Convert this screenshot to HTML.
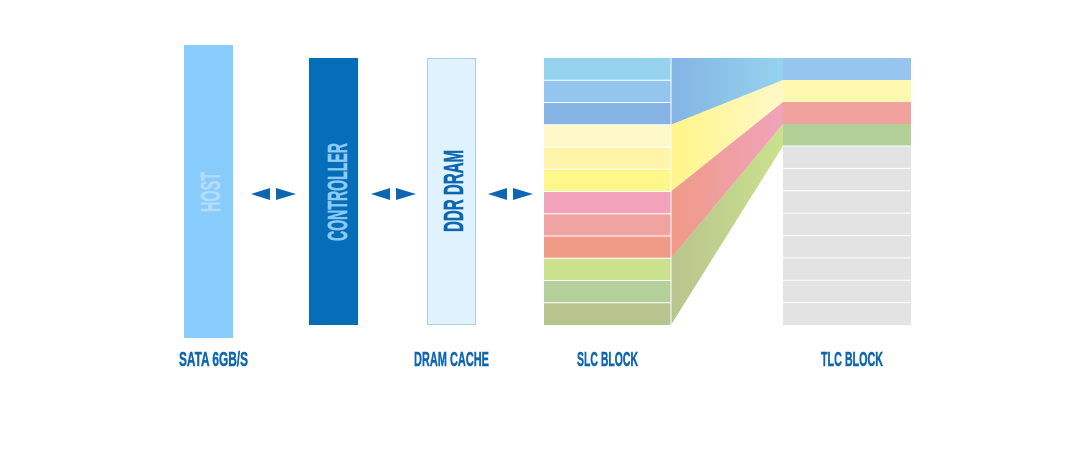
<!DOCTYPE html>
<html><head><meta charset="utf-8"><style>html,body{margin:0;padding:0;background:#fff}svg{display:block}</style></head>
<body>
<svg width="1080" height="450" viewBox="0 0 1080 450" xmlns="http://www.w3.org/2000/svg" font-family="Liberation Sans, sans-serif" font-weight="bold">
<defs>
<linearGradient id="gb" x1="0" x2="1" y1="0" y2="0"><stop offset="0" stop-color="#84b4e4"/><stop offset="1" stop-color="#95d3ee"/></linearGradient>
<linearGradient id="gy" x1="0" x2="1"><stop offset="0" stop-color="#fff58a"/><stop offset="1" stop-color="#fff8c8"/></linearGradient>
<linearGradient id="gr" x1="0" x2="1"><stop offset="0" stop-color="#f09a88"/><stop offset="1" stop-color="#f0a3bb"/></linearGradient>
<linearGradient id="gg" x1="0" x2="1"><stop offset="0" stop-color="#b8c48e"/><stop offset="1" stop-color="#cae28e"/></linearGradient>
</defs>
<rect x="184" y="45" width="49" height="293" fill="#88cbfd"/>
<rect x="309" y="58" width="49" height="267" fill="#066db8"/>
<rect x="427.5" y="58.5" width="48" height="266" fill="#dff2fe" stroke="#a9cfe8"/>
<text transform="translate(220,212) rotate(-90)" font-size="28" fill="#b4dcfb" stroke="#b4dcfb" stroke-width="0.6" textLength="40" lengthAdjust="spacingAndGlyphs">HOST</text>
<text transform="translate(347,241) rotate(-90)" font-size="28" fill="#8ccbf8" stroke="#8ccbf8" stroke-width="0.6" textLength="98" lengthAdjust="spacingAndGlyphs">CONTROLLER</text>
<text transform="translate(463,232) rotate(-90)" font-size="28" fill="#0e66b0" stroke="#0e66b0" stroke-width="0.6" textLength="82" lengthAdjust="spacingAndGlyphs">DDR DRAM</text>
<g fill="#0e66b0">
<polygon points="251,194 270,188 270,200"/><polygon points="296,194 276,188 276,200"/>
<polygon points="371,194 390,188 390,200"/><polygon points="416,194 396,188 396,200"/>
<polygon points="488,194 507,188 507,200"/><polygon points="533,194 513,188 513,200"/>
</g>
<g>
<rect x="544" y="58" width="127" height="22.25" fill="#95d3ee"/>
<rect x="544" y="80.25" width="127" height="22.25" fill="#93c5ee"/>
<rect x="544" y="102.5" width="127" height="22.25" fill="#86b4e4"/>
<rect x="544" y="124.75" width="127" height="22.25" fill="#fff8c8"/>
<rect x="544" y="147" width="127" height="22.25" fill="#fff4a8"/>
<rect x="544" y="169.25" width="127" height="22.25" fill="#fff78a"/>
<rect x="544" y="191.5" width="127" height="22.25" fill="#f0a3bb"/>
<rect x="544" y="213.75" width="127" height="22.25" fill="#f0a3a0"/>
<rect x="544" y="236" width="127" height="22.25" fill="#f09a88"/>
<rect x="544" y="258.25" width="127" height="22.25" fill="#cae28e"/>
<rect x="544" y="280.5" width="127" height="22.25" fill="#b5d09a"/>
<rect x="544" y="302.75" width="127" height="22.25" fill="#b8c48e"/>
</g>
<polygon points="671,58 783,58 783,80 671,124.75" fill="url(#gb)"/>
<polygon points="671,124.75 783,80 783,102 671,191.5" fill="url(#gy)"/>
<polygon points="671,191.5 783,102 783,124 671,258.25" fill="url(#gr)"/>
<polygon points="671,258.25 783,124 783,146 671,325" fill="url(#gg)"/>
<rect x="783" y="58" width="128" height="22" fill="#96c5ee"/>
<rect x="783" y="80" width="128" height="22" fill="#fff8b0"/>
<rect x="783" y="102" width="128" height="22" fill="#f0a39e"/>
<rect x="783" y="124" width="128" height="22" fill="#b3d098"/>
<rect x="783" y="146" width="128" height="179" fill="#e3e3e3"/>
<g stroke="#fff" stroke-width="1">
<path d="M544 80.25H671M544 102.5H671M544 124.75H671M544 147H671M544 169.25H671M544 191.5H671M544 213.75H671M544 236H671M544 258.25H671M544 280.5H671M544 302.75H671"/>
<path d="M783 146H911M783 168.4H911M783 190.8H911M783 213.1H911M783 235.5H911M783 257.9H911M783 280.3H911M783 302.6H911"/>
<path d="M671 58V325"/>
</g>
<g fill="#0e66b0" stroke="#0e66b0" stroke-width="0.5" font-size="20">
<text x="179" y="366" textLength="69" lengthAdjust="spacingAndGlyphs">SATA 6GB/S</text>
<text x="414" y="366" textLength="75" lengthAdjust="spacingAndGlyphs">DRAM CACHE</text>
<text x="577" y="366" textLength="61" lengthAdjust="spacingAndGlyphs">SLC BLOCK</text>
<text x="821" y="366" textLength="62" lengthAdjust="spacingAndGlyphs">TLC BLOCK</text>
</g>
</svg>
</body></html>
